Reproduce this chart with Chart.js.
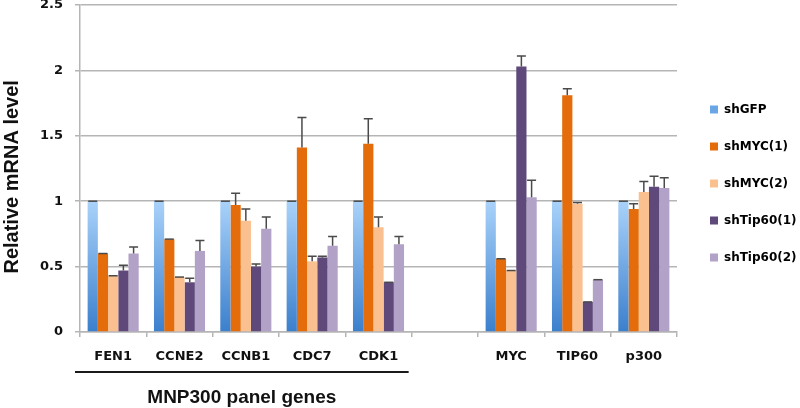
<!DOCTYPE html>
<html>
<head>
<meta charset="utf-8">
<script src="https://cdn.jsdelivr.net/npm/chart.js@4.4.0/dist/chart.umd.min.js"></script>
<style>
html, body { margin: 0; padding: 0; background: #fff; }
#wrap { position: relative; width: 800px; height: 408px; }
</style>
</head>
<body>
<div id="wrap"><canvas id="chartMRNA"></canvas></div>
<script>
// datos
const panelGenes = ['FEN1', 'CCNE2', 'CCNB1', 'CDC7', 'CDK1'];
const otherGenes = ['MYC', 'TIP60', 'p300'];
const genes = [...panelGenes, '', ...otherGenes];
const seriesNames = ['shGFP', 'shMYC(1)', 'shMYC(2)', 'shTip60(1)', 'shTip60(2)'];

const shGFP    = [1, 1, 1, 1, 1, null, 1, 1, 1];
const shMYC1   = [0.60, 0.71, 0.97, 1.41, 1.44, null, 0.56, 1.81, 0.94];
const shMYC2   = [0.43, 0.42, 0.85, 0.54, 0.80, null, 0.47, 0.98, 1.07];
const shTip1   = [0.47, 0.38, 0.50, 0.57, 0.38, null, 2.03, 0.23, 1.11];
const shTip2   = [0.60, 0.62, 0.79, 0.66, 0.67, null, 1.03, 0.40, 1.10];

const errGFP   = [0, 0, 0, 0, 0, null, 0, 0, 0];
const errMYC1  = [0, 0, 0.09, 0.23, 0.19, null, 0, 0.05, 0.04];
const errMYC2  = [0, 0, 0.09, 0.04, 0.08, null, 0, 0.01, 0.08];
const errTip1  = [0.04, 0.03, 0.02, 0.01, 0, null, 0.08, 0, 0.08];
const errTip2  = [0.05, 0.08, 0.09, 0.07, 0.06, null, 0.13, 0, 0.08];

const seriesValues = [shGFP, shMYC1, shMYC2, shTip1, shTip2];
const seriesErrors = [errGFP, errMYC1, errMYC2, errTip1, errTip2];
const seriesColors = ['#6aa6e6', '#e46c0a', '#fac090', '#5f497a', '#b3a2c7'];

const tickFont = { family: 'DejaVu Sans', weight: 'bold', size: 13 };
const titleFont = { family: 'Liberation Sans', weight: 'bold', size: 20 };

// gradiente del shGFP (claro arriba, oscuro abajo)
const gfpFill = (ctx) => {
	const chart = ctx.chart;
	const y = chart.scales.y;
	if (!chart.chartArea || !y || ctx.raw == null) return seriesColors[0];
	const g = chart.ctx.createLinearGradient(0, y.getPixelForValue(ctx.raw), 0, y.getPixelForValue(0));
	g.addColorStop(0, '#a9d2fa');
	g.addColorStop(1, '#3b7fcc');
	return g;
};

// barras de error (solo hacia arriba)
const errorBars = {
	id: 'errorBars',
	afterDatasetsDraw(chart) {
		const ctx = chart.ctx;
		const y = chart.scales.y;
		ctx.save();
		ctx.strokeStyle = '#4a4a4a';
		ctx.lineWidth = 1.5;
		chart.data.datasets.forEach((ds, di) => {
			const meta = chart.getDatasetMeta(di);
			meta.data.forEach((bar, i) => {
				const v = ds.data[i];
				const e = seriesErrors[di][i];
				if (v == null) return;
				const yBar = y.getPixelForValue(v);
				const yTop = y.getPixelForValue(v + e);
				ctx.beginPath();
				ctx.moveTo(bar.x, yBar);
				ctx.lineTo(bar.x, yTop);
				ctx.moveTo(bar.x - 4.5, yTop);
				ctx.lineTo(bar.x + 4.5, yTop);
				ctx.stroke();
			});
		});
		ctx.restore();
	}
};

// mover la leyenda un poco a la derecha y abajo
const legendShift = {
	id: 'legendShift',
	afterLayout(chart) {
		const lg = chart.legend;
		if (!lg) return;
		lg.left += 8;
		lg.right += 8;
		lg.top += 15;
		lg.bottom += 15;
	}
};

// linea y texto debajo de los genes del panel
const panelLabel = {
	id: 'panelLabel',
	afterDraw(chart) {
		const ctx = chart.ctx;
		const x = chart.scales.x;
		const half = (x.getPixelForValue(1) - x.getPixelForValue(0)) / 2;
		const x0 = x.left - 5;
		const x1 = x.getPixelForValue(panelGenes.length - 1) + half - 3;
		const yLine = chart.chartArea.bottom + 40;
		ctx.save();
		ctx.strokeStyle = '#1a1a1a';
		ctx.lineWidth = 2;
		ctx.beginPath();
		ctx.moveTo(x0, yLine);
		ctx.lineTo(x1, yLine);
		ctx.stroke();
		ctx.fillStyle = '#111';
		ctx.font = 'bold 19px "Liberation Sans"';
		ctx.textAlign = 'center';
		ctx.textBaseline = 'alphabetic';
		ctx.fillText('MNP300 panel genes', (x0 + x1) / 2, chart.chartArea.bottom + 71);
		ctx.restore();
	}
};

const chartMRNA = new Chart(
	document.getElementById('chartMRNA'),
	{
		type: 'bar',
		data: {
			labels: genes,
			datasets: seriesNames.map((name, i) => ({
				label: name,
				data: seriesValues[i],
				backgroundColor: i === 0 ? gfpFill : seriesColors[i],
				borderWidth: 0,
				barPercentage: 1,
				categoryPercentage: 0.77
			}))
		},
		options: {
			responsive: true,
			maintainAspectRatio: false,
			animation: false,
			layout: {
				padding: { top: 5, right: 6, bottom: 0, left: 0 }
			},
			plugins: {
				tooltip: { enabled: false },
				legend: {
					position: 'right',
					fullSize: false,
					maxWidth: 117,
					labels: {
						boxWidth: 8,
						boxHeight: 8,
						padding: 25,
						color: '#111',
						font: { family: 'DejaVu Sans', weight: 'bold', size: 12 },
						generateLabels: (chart) => seriesNames.map((name, i) => ({
							text: name,
							fillStyle: seriesColors[i],
							strokeStyle: seriesColors[i],
							lineWidth: 0,
							datasetIndex: i
						}))
					}
				}
			},
			scales: {
				x: {
					grid: {
						offset: true,
						drawOnChartArea: false,
						tickLength: 5,
						color: '#b5b5b5',
						lineWidth: 1.5
					},
					border: { color: '#b5b5b5', width: 1.5 },
					ticks: {
						color: '#111',
						font: tickFont,
						padding: 12,
						maxRotation: 0,
						autoSkip: false
					},
					afterFit: (s) => { s.height = 76; }
				},
				y: {
					min: 0,
					max: 2.5,
					grid: {
						color: '#b5b5b5',
						lineWidth: 1.5,
						tickLength: 5
					},
					border: { color: '#b5b5b5', width: 1.5 },
					ticks: {
						stepSize: 0.5,
						color: '#111',
						font: tickFont,
						padding: 12,
						callback: (v) => String(v)
					},
					title: {
						display: true,
						text: 'Relative mRNA level   ',
						color: '#111',
						font: titleFont,
						padding: 0
					},
					afterFit: (s) => {
						s.width = 80;
						s.paddingTop = 0;
						s.paddingBottom = 0;
					}
				}
			}
		},
		plugins: [errorBars, legendShift, panelLabel]
	}
);
</script>
</body>
</html>
